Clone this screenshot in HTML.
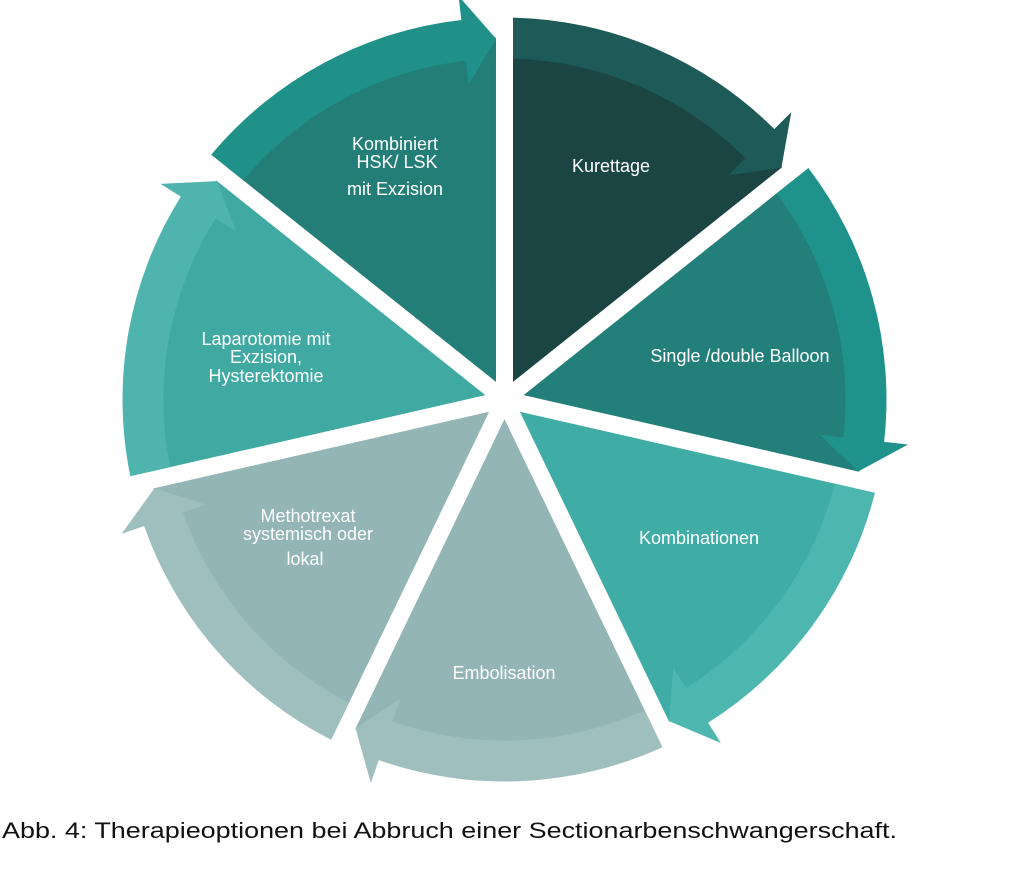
<!DOCTYPE html>
<html><head><meta charset="utf-8"><style>
html,body{margin:0;padding:0;background:#fff;}
svg{display:block;}
text{font-family:"Liberation Sans",Arial,sans-serif;}
</style></head><body>
<svg width="1024" height="874" viewBox="0 0 1024 874" xmlns="http://www.w3.org/2000/svg">
<rect width="1024" height="874" fill="#fff"/>
<defs>
<path id="w" d="M 8.5,-17.66 L 8.5,-361.9 A 362 362 0 0 1 277.63,-232.29 Z"/>
<path id="b" d="M 8.5,-381.9 A 382 382 0 0 1 269.8,-270.4 L 286.8,-287.4 L 276.85,-231.67 L 223.9,-224.4 L 240.8,-241.4 A 341 341 0 0 0 8.5,-340.9 Z"/>
</defs>
<g transform="translate(504.5,399.5)">
  <g transform="rotate(0)"><use href="#w" fill="#1b4543"/><use href="#b" fill="#1e5a57"/></g>
  <g transform="rotate(51.4286)"><use href="#w" fill="#227f79"/><use href="#b" fill="#1f938b"/></g>
  <g transform="rotate(102.857)"><use href="#w" fill="#3fada5"/><use href="#b" fill="#4cb6af"/></g>
  <g transform="rotate(154.286)"><use href="#w" fill="#93b5b5"/><use href="#b" fill="#9fbfbf"/></g>
  <g transform="rotate(205.714)"><use href="#w" fill="#93b5b5"/><use href="#b" fill="#9fbfbf"/></g>
  <g transform="rotate(257.143)"><use href="#w" fill="#3fa9a2"/><use href="#b" fill="#4eb4ad"/></g>
  <g transform="rotate(308.571)"><use href="#w" fill="#237e78"/><use href="#b" fill="#1f9189"/></g>
</g>
<g fill="#fff" font-size="18" text-anchor="middle">
  <text x="611" y="172">Kurettage</text>
  <text x="740" y="362">Single /double Balloon</text>
  <text x="699" y="544">Kombinationen</text>
  <text x="504" y="679">Embolisation</text>
  <text x="308" y="522">Methotrexat</text>
  <text x="308" y="540">systemisch oder</text>
  <text x="305" y="565">lokal</text>
  <text x="266" y="345">Laparotomie mit</text>
  <text x="266" y="363">Exzision,</text>
  <text x="266" y="382">Hysterektomie</text>
  <text x="395" y="150">Kombiniert</text>
  <text x="397" y="168">HSK/ LSK</text>
  <text x="395" y="195">mit Exzision</text>
</g>
<text x="2" y="838" font-size="22" fill="#111" textLength="895" lengthAdjust="spacingAndGlyphs">Abb. 4: Therapieoptionen bei Abbruch einer Sectionarbenschwangerschaft.</text>
</svg>
</body></html>
